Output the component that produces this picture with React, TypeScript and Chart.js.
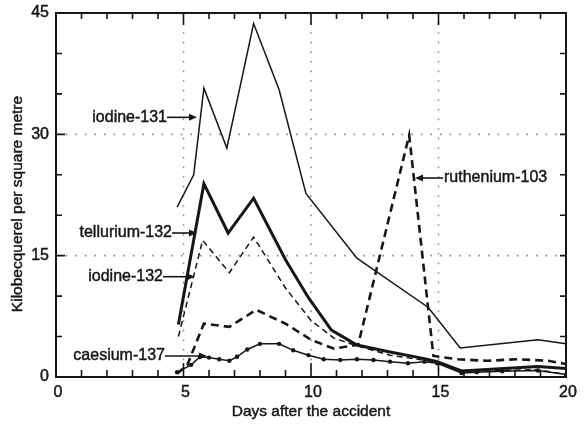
import React, { useEffect, useRef } from "react";
import { Chart, registerables } from "chart.js";

Chart.register(...registerables);

// ---- data ----
const i131Days = [4.75, 5.4, 5.8, 6.7, 7.75, 8.75, 9.8, 11.8, 14.6, 15.85, 18.9, 20];
const i131Vals = [21, 25, 35.7, 28.3, 43.7, 35.5, 22.7, 14.7, 8.6, 3.6, 4.6, 4.1];

const te132Days = [4.8, 5.8, 6.75, 7.75, 9.0, 9.9, 10.8, 11.8, 13.1, 14.4, 14.95, 15.9, 18.9, 20];
const te132Vals = [6.5, 23.9, 17.8, 22.1, 14.5, 9.8, 5.8, 3.95, 3.1, 2.3, 1.9, 0.75, 1.3, 1.05];

const i132Days = [4.8, 5.75, 6.8, 7.75, 9.0, 10.0, 10.9, 11.7, 13.1, 14.8, 15.9, 18.9, 20];
const i132Vals = [5.0, 16.9, 12.9, 17.3, 11.0, 7.0, 4.8, 3.95, 2.7, 1.9, 0.7, 0.9, 0.3];

const ru103Days = [4.75, 5.15, 5.8, 6.8, 7.85, 9.0, 10.0, 10.9, 11.85, 13.85, 14.8, 15.75, 16.9, 18.1, 19.3, 20];
const ru103Vals = [0.4, 1.5, 6.6, 6.2, 8.3, 6.6, 4.6, 3.5, 4.0, 29.9, 2.6, 2.2, 2.0, 2.2, 2.0, 1.6];

const cs137Days = [4.75, 5.3, 5.65, 6.0, 6.4, 6.8, 7.1, 7.5, 8.0, 8.75, 9.3, 9.9, 10.5, 11.15, 11.8, 12.45, 13.1, 13.8, 14.45, 14.95, 15.9, 16.5, 17.5, 18.9, 20];
const cs137Vals = [0.6, 1.5, 2.5, 2.4, 2.2, 2.0, 2.5, 3.4, 4.1, 4.1, 3.3, 2.7, 2.2, 2.1, 2.2, 2.1, 1.9, 1.7, 1.9, 1.7, 0.5, 0.6, 0.7, 0.8, 0.3];

const xTickLabels = [0, 5, 10, 15, 20];
const yTickLabels = [0, 15, 30, 45];
const xTitle = "Days after the accident";
const yTitle = "Kilobecquerel per square metre";

// annotation labels: text, arrow tip (day, value), side
const annLabels = ["iodine-131", "tellurium-132", "iodine-132", "caesium-137", "ruthenium-103"];
const annTipDays = [5.53, 5.53, 5.45, 5.92, 14.08];
const annTipVals = [32.1, 17.8, 12.4, 2.6, 24.6];
const annArrowLen = [30, 25, 32, 42, 28];
const annSide = ["left", "left", "left", "left", "right"];

const INK = "#161616";
const FONT = "'Liberation Sans', Arial, sans-serif";

const toPts = (d: number[], v: number[]) => d.map((x, i) => ({ x, y: v[i] }));

function heavyText(ctx: CanvasRenderingContext2D, s: string, px: number, py: number) {
  ctx.fillText(s, px, py);
  ctx.save();
  ctx.lineWidth = 0.45;
  ctx.strokeStyle = INK;
  ctx.strokeText(s, px, py);
  ctx.restore();
}

const axesPlugin = {
  id: "customAxes",
  beforeDatasetsDraw(chart: any) {
    const { ctx, chartArea: a, scales } = chart;
    const x = scales.x, y = scales.y;
    ctx.save();
    ctx.strokeStyle = "#8c8c8c";
    ctx.lineWidth = 1.6;
    ctx.setLineDash([1.6, 8]);
    [5, 10, 15].forEach((v) => {
      const px = x.getPixelForValue(v);
      ctx.beginPath();
      ctx.moveTo(px, a.top);
      ctx.lineTo(px, a.bottom);
      ctx.stroke();
    });
    [15, 30].forEach((v) => {
      const py = y.getPixelForValue(v);
      ctx.beginPath();
      ctx.moveTo(a.left, py);
      ctx.lineTo(a.right, py);
      ctx.stroke();
    });
    ctx.restore();
  },
  afterDatasetsDraw(chart: any) {
    const { ctx, chartArea: a, scales } = chart;
    const x = scales.x, y = scales.y;
    ctx.save();
    ctx.setLineDash([]);
    ctx.strokeStyle = INK;
    ctx.lineWidth = 2;
    ctx.strokeRect(a.left, a.top, a.right - a.left, a.bottom - a.top);
    ctx.lineWidth = 1.6;
    // x ticks (every day)
    for (let d = 1; d < 20; d++) {
      const px = x.getPixelForValue(d);
      const major = d % 5 === 0;
      ctx.beginPath();
      ctx.moveTo(px, a.bottom);
      ctx.lineTo(px, a.bottom - (major ? 14 : 7));
      ctx.moveTo(px, a.top);
      ctx.lineTo(px, a.top + (major ? 12 : 6));
      ctx.stroke();
    }
    // y ticks (every 5)
    for (let v = 5; v < 45; v += 5) {
      const py = y.getPixelForValue(v);
      const major = v % 15 === 0;
      ctx.beginPath();
      ctx.moveTo(a.left, py);
      ctx.lineTo(a.left + (major ? 9 : 6), py);
      ctx.moveTo(a.right, py);
      ctx.lineTo(a.right - 6, py);
      ctx.stroke();
    }
    // tick labels
    ctx.fillStyle = INK;
    ctx.font = `16px ${FONT}`;
    ctx.textAlign = "center";
    ctx.textBaseline = "top";
    xTickLabels.forEach((v) => {
      heavyText(ctx, String(v), x.getPixelForValue(v) + 2, a.bottom + 8);
    });
    ctx.textAlign = "right";
    ctx.textBaseline = "middle";
    yTickLabels.forEach((v) => {
      heavyText(ctx, String(v), a.left - 7, y.getPixelForValue(v));
    });
    // titles
    ctx.font = `15.5px ${FONT}`;
    ctx.textAlign = "center";
    ctx.textBaseline = "middle";
    heavyText(ctx, xTitle, (a.left + a.right) / 2, a.bottom + 35);
    ctx.save();
    ctx.translate(18, (a.top + a.bottom) / 2 + 9);
    ctx.rotate(-Math.PI / 2);
    heavyText(ctx, yTitle, 0, 0);
    ctx.restore();
    // annotations
    ctx.font = `16px ${FONT}`;
    ctx.lineWidth = 1.6;
    annLabels.forEach((label, i) => {
      const tx = x.getPixelForValue(annTipDays[i]);
      const ty = y.getPixelForValue(annTipVals[i]);
      const len = annArrowLen[i];
      const dir = annSide[i] === "left" ? 1 : -1; // arrow points right if label on left
      const sx = tx - dir * len;
      ctx.beginPath();
      ctx.moveTo(sx, ty);
      ctx.lineTo(tx - dir * 6, ty);
      ctx.stroke();
      ctx.beginPath();
      ctx.moveTo(tx, ty);
      ctx.lineTo(tx - dir * 8, ty - 3.5);
      ctx.lineTo(tx - dir * 8, ty + 3.5);
      ctx.closePath();
      ctx.fill();
      ctx.textBaseline = "middle";
      if (dir === 1) {
        ctx.textAlign = "right";
        heavyText(ctx, label, sx, ty);
      } else {
        ctx.textAlign = "left";
        heavyText(ctx, label, sx + 1, ty);
      }
    });
    ctx.restore();
  },
};

export default function App() {
  const ref = useRef<HTMLCanvasElement | null>(null);
  useEffect(() => {
    if (!ref.current) return;
    const chart = new Chart(ref.current, {
      type: "line",
      data: {
        datasets: [
          { label: "iodine-131", data: toPts(i131Days, i131Vals), borderColor: INK, borderWidth: 1.5, pointRadius: 0 },
          { label: "tellurium-132", data: toPts(te132Days, te132Vals), borderColor: INK, borderWidth: 3, pointRadius: 0 },
          { label: "iodine-132", data: toPts(i132Days, i132Vals), borderColor: INK, borderWidth: 1.5, borderDash: [6, 4], pointRadius: 0 },
          { label: "ruthenium-103", data: toPts(ru103Days, ru103Vals), borderColor: INK, borderWidth: 2.6, borderDash: [8, 5], pointRadius: 0 },
          { label: "caesium-137", data: toPts(cs137Days, cs137Vals), borderColor: INK, borderWidth: 1.5, pointRadius: 2.2, pointBackgroundColor: INK, pointBorderWidth: 0 },
        ],
      },
      options: {
        responsive: false,
        animation: false,
        parsing: false as any,
        layout: { padding: { left: 56, right: 18, top: 13, bottom: 49 } },
        plugins: { legend: { display: false }, tooltip: { enabled: false } },
        elements: { line: { tension: 0, fill: false } },
        scales: {
          x: { type: "linear", min: 0, max: 20, display: false },
          y: { type: "linear", min: 0, max: 45, display: false },
        },
      },
      plugins: [axesPlugin],
    });
    return () => chart.destroy();
  }, []);
  return (
    <div style={{ position: "absolute", left: 0, top: 0, width: 584, height: 426, background: "#fff" }}>
      <canvas ref={ref} width={584} height={426} />
    </div>
  );
}
